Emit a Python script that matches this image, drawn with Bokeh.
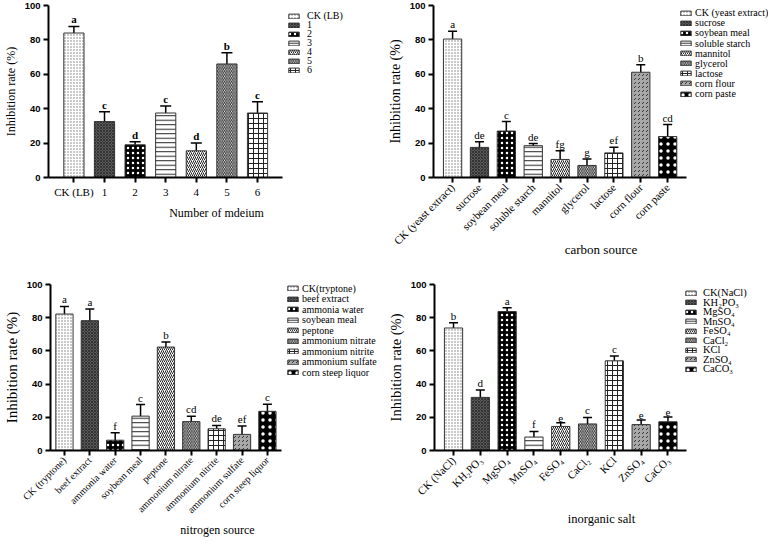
from math import pi
from bokeh.plotting import figure
from bokeh.models import (ColumnDataSource, Whisker, TeeHead, Legend, LegendItem,
                          Label, Range1d, FixedTicker, CustomJSTickFormatter)
from bokeh.layouts import column, row
from bokeh.embed import file_html
from bokeh.resources import INLINE
from bokeh.core.properties import value

# ---------------- data ----------------
a_cats = ["CK (LB)", "1", "2", "3", "4", "5", "6"]
a_legend = ["CK (LB)", "1", "2", "3", "4", "5", "6"]
a_vals = [84, 32.5, 19, 37.5, 15.5, 66, 37.5]
a_errs = [3.8, 5.7, 1.8, 4.0, 4.6, 6.6, 6.6]
a_sig = ["a", "c", "d", "c", "d", "b", "c"]

b_cats = ["CK (yeast extract)", "sucrose", "soybean meal", "soluble starch", "mannitol",
          "glycerol", "lactose", "corn flour", "corn paste"]
b_legend = ["CK (yeast extract)", "sucrose", "soybean meal", "soluble starch", "mannitol",
            "glycerol", "lactose", "corn flour", "corn paste"]
b_vals = [80.5, 17.5, 27.0, 18.5, 10.5, 7.0, 14.3, 61.2, 23.8]
b_errs = [4.6, 3.3, 5.5, 1.2, 5.0, 3.7, 3.3, 4.3, 7.0]
b_sig = ["a", "de", "c", "de", "fg", "g", "ef", "b", "cd"]

c_cats = ["CK (tryptone)", "beef extract", "ammonia water", "soybean meal", "peptone",
          "ammonium nitrate", "ammonium nitrite", "ammonium sulfate", "corn steep liquor"]
c_legend = ["CK(tryptone)", "beef extract", "ammonia water", "soybean meal", "peptone",
            "ammonium nitrate", "ammonium nitrite", "ammonium sulfate", "corn steep liquor"]
c_vals = [82.2, 78.2, 6.2, 20.7, 62.3, 17.4, 13.1, 9.7, 23.6]
c_errs = [4.6, 7.0, 4.5, 7.0, 3.0, 3.2, 2.0, 5.0, 4.2]
c_sig = ["a", "a", "f", "c", "b", "cd", "de", "ef", "c"]

d_cats = ["CK (NaCl)", "KH\u2082PO\u2083", "MgSO\u2084", "MnSO\u2084", "FeSO\u2084",
          "CaCl\u2082", "KCl", "ZnSO\u2084", "CaCO\u2083"]
d_legend = ["CK(NaCl)", "KH\u2082PO\u2083", "MgSO\u2084", "MnSO\u2084", "FeSO\u2084",
            "CaCl\u2082", "KCl", "ZnSO\u2084", "CaCO\u2083"]
d_vals = [73.8, 32.0, 83.7, 8.1, 14.5, 16.0, 54.0, 15.6, 17.3]
d_errs = [3.2, 4.4, 2.3, 3.4, 2.2, 3.9, 2.9, 2.8, 2.9]
d_sig = ["b", "d", "a", "f", "e", "c", "c", "e", "e"]

y_ticks = [0, 20, 40, 60, 80, 100]

# ---------------- styles (fill patterns) ----------------
PATTERNS = [
    dict(fill="white", hatch="dot", hcolor="#777777", hscale=3, hweight=1),
    dict(fill="#5a5a5a", hatch="diagonal_cross", hcolor="#2a2a2a", hscale=3, hweight=0.8),
    dict(fill="black", hatch="dot", hcolor="white", hscale=5, hweight=2.5),
    dict(fill="white", hatch="horizontal_line", hcolor="#222222", hscale=4.5, hweight=1),
    dict(fill="white", hatch="right_diagonal_line", hcolor="#222222", hscale=4, hweight=1),
    dict(fill="white", hatch="left_diagonal_line", hcolor="#222222", hscale=3.5, hweight=1),
    dict(fill="white", hatch="cross", hcolor="#222222", hscale=5, hweight=1),
    dict(fill="#a8a8a8", hatch="right_diagonal_dash", hcolor="#333333", hscale=4, hweight=1),
    dict(fill="black", hatch="dot", hcolor="white", hscale=7, hweight=3.5),
]

SERIF = "Liberation Serif"
SANS = "Liberation Sans"
W = 384
ROW_H = 12


def panel(letter, cats, legend_labels, vals, errs, sig, xtitle, cfg):
    n = len(cats)
    H = cfg["h"]
    pats = PATTERNS[:n]
    idx = list(range(n))
    src = ColumnDataSource(dict(
        x=idx, val=vals,
        upper=[v + e for v, e in zip(vals, errs)],
        lower=[v - e for v, e in zip(vals, errs)],
        sig=sig,
        fill=[p["fill"] for p in pats],
        hatch=[p["hatch"] for p in pats],
        hcolor=[p["hcolor"] for p in pats],
        hscale=[p["hscale"] for p in pats],
        hweight=[p["hweight"] for p in pats],
    ))
    fw = W - cfg["bl"] - cfg["br"]
    fh = H - cfg["bt"] - cfg["bb"]
    start = -cfg["pad"]
    plot_end = n - 1 + cfg["pad"]
    upp = (plot_end - start) / cfg["pw"]          # data units per pixel
    end = start + fw * upp

    p = figure(x_range=Range1d(start, end), y_range=Range1d(0, 100),
               width=W, height=H, output_backend="svg", toolbar_location=None,
               min_border_left=cfg["bl"], min_border_right=cfg["br"],
               min_border_top=cfg["bt"], min_border_bottom=cfg["bb"])
    p.outline_line_color = None
    p.xgrid.grid_line_color = None
    p.ygrid.grid_line_color = None

    r = p.vbar(x="x", top="val", width=cfg["bw"], source=src,
               fill_color="fill", hatch_pattern="hatch", hatch_color="hcolor",
               hatch_scale="hscale", hatch_weight="hweight",
               line_color="#333333", line_width=1)

    w = Whisker(source=src, base="x", upper="upper", lower="lower",
                line_color="black", line_width=1.5,
                upper_head=TeeHead(size=cfg["tee"], line_width=1.5, line_color="black"),
                lower_head=TeeHead(size=cfg["tee"], line_width=1.5, line_color="black"))
    p.add_layout(w)

    p.text(x="x", y="upper", text="sig", source=src, text_align="center",
           text_baseline="bottom", y_offset=-1,
           text_font=value(SERIF), text_font_size=cfg["sigsize"],
           text_font_style=cfg["sigstyle"], text_color="black")

    # axes
    p.yaxis.ticker = y_ticks
    p.yaxis.axis_label = "Inhibition rate (%)"
    p.yaxis.axis_label_text_font = SERIF
    p.yaxis.axis_label_text_font_style = "normal"
    p.yaxis.axis_label_text_font_size = cfg["ytitle"]
    p.yaxis.axis_label_standoff = 4
    p.yaxis.major_label_text_font = SANS
    p.yaxis.major_label_text_font_style = "bold"
    p.yaxis.major_label_text_font_size = "9.5px"
    p.yaxis.major_label_standoff = 3
    p.yaxis.minor_tick_line_color = None

    p.xaxis.ticker = FixedTicker(ticks=idx)
    p.xaxis.formatter = CustomJSTickFormatter(args=dict(labels=list(cats)),
                                              code="return labels[Math.round(tick)] || '';")
    p.xaxis.bounds = (start, plot_end)
    p.xaxis.minor_tick_line_color = None
    p.xaxis.axis_label = xtitle
    p.xaxis.axis_label_text_font = SERIF
    p.xaxis.axis_label_text_font_style = "normal"
    p.xaxis.axis_label_text_font_size = cfg["xtitle"]
    p.xaxis.axis_label_standoff = cfg["xstand"]
    p.xaxis.major_label_text_font = SERIF
    p.xaxis.major_label_text_font_size = cfg["xlab"]
    p.xaxis.major_label_standoff = 3
    if cfg["rot"]:
        p.xaxis.major_label_orientation = pi / 4

    for ax in (p.xaxis, p.yaxis):
        ax.axis_line_width = 2
        ax.axis_line_color = "black"
        ax.major_tick_line_width = 2
        ax.major_tick_line_color = "black"
        ax.major_tick_out = 5
        ax.major_tick_in = 0
        ax.major_label_text_color = "black"
        ax.axis_label_text_color = "black"

    # legend: one entry per legend object so the row pitch is exact
    for i, lab in enumerate(legend_labels):
        ly = fh - (cfg["ctr"] + i * cfg["pitch"]) - ROW_H / 2
        leg = Legend(items=[LegendItem(label=lab, renderers=[r], index=i)],
                     location=(cfg["lx"], ly), margin=0, padding=0,
                     glyph_width=13, glyph_height=6, label_standoff=cfg["lstand"],
                     spacing=0, label_height=ROW_H,
                     label_text_font=SERIF, label_text_font_size=cfg["lsize"],
                     label_text_font_style="normal",
                     label_text_color="black",
                     border_line_color=None, background_fill_alpha=0)
        p.add_layout(leg)

    p.add_layout(Label(x=cfg["tx"], y=100, x_units="screen", y_units="data", text=letter,
                       text_font=SERIF, text_font_style="bold", text_font_size="16px",
                       text_baseline="top", text_align="left", text_color="black"))
    return p


cfgA = dict(h=262, bl=40, br=0, bt=5, bb=85, pad=0.83, pw=240, bw=0.66, tee=11,
            sigsize="11px", sigstyle="bold", ytitle="12px", xtitle="12px", xstand=5,
            xlab="11px", rot=False, lx=239, ctr=10.7, pitch=9, lstand=7, lsize="10px", tx=-40)
cfgB = dict(h=262, bl=48, br=0, bt=5, bb=85, pad=0.71, pw=254, bw=0.68, tee=9,
            sigsize="11px", sigstyle="normal", ytitle="14px", xtitle="13px", xstand=-12,
            xlab="11px", rot=True, lx=246, ctr=7.7, pitch=10.1, lstand=3, lsize="10px", tx=-36)
cfgC = dict(h=278, bl=44, br=0, bt=22, bb=88, pad=0.55, pw=235, bw=0.68, tee=9,
            sigsize="11px", sigstyle="normal", ytitle="15px", xtitle="12px", xstand=1,
            xlab="10px", rot=True, lx=236, ctr=6, pitch=10.5, lstand=3, lsize="10px", tx=-44)
cfgD = dict(h=278, bl=48, br=0, bt=22, bb=88, pad=0.71, pw=254, bw=0.68, tee=9,
            sigsize="11px", sigstyle="normal", ytitle="14.5px", xtitle="12.5px", xstand=8,
            xlab="11px", rot=True, lx=250, ctr=10.7, pitch=9.5, lstand=6, lsize="10.5px", tx=-36)

pA = panel("A", a_cats, a_legend, a_vals, a_errs, a_sig, "Number of mdeium", cfgA)
pB = panel("B", b_cats, b_legend, b_vals, b_errs, b_sig, "carbon source", cfgB)
pC = panel("C", c_cats, c_legend, c_vals, c_errs, c_sig, "nitrogen source", cfgC)
pD = panel("D", d_cats, d_legend, d_vals, d_errs, d_sig, "inorganic salt", cfgD)

layout = column(row(pA, pB), row(pC, pD))
open("out.html", "w").write(file_html(layout, INLINE))
